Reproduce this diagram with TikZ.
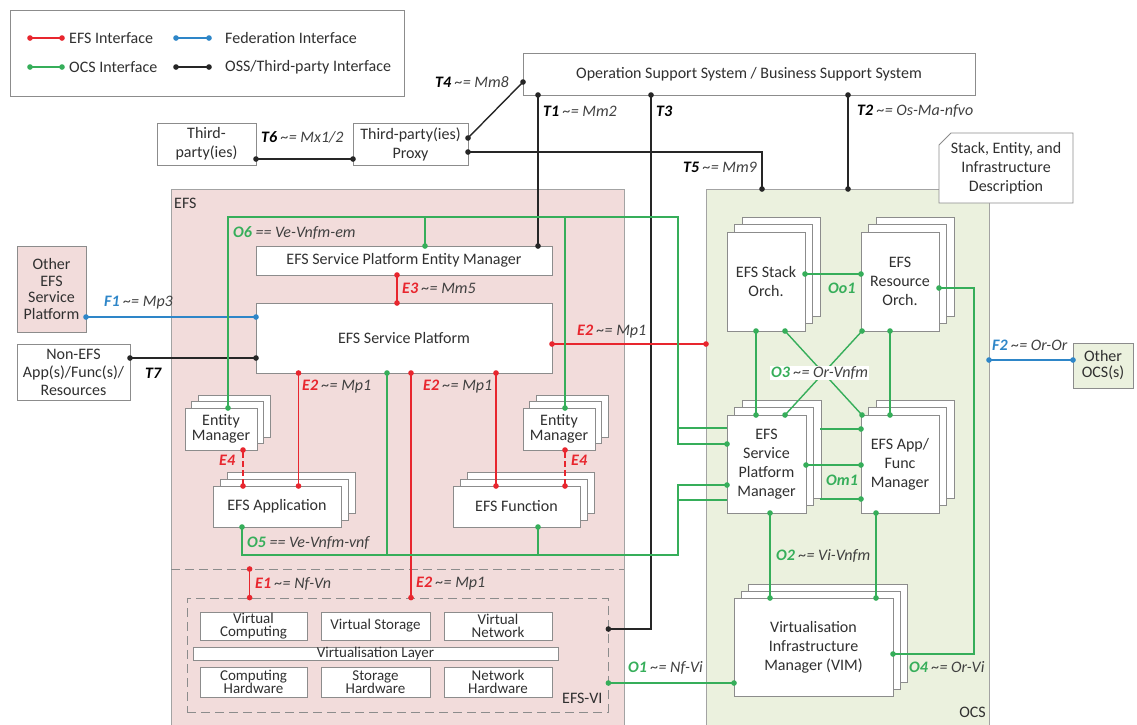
\documentclass[tikz,border=0pt]{standalone}
\usepackage{fontspec}
\setmainfont{Carlito}
\usetikzlibrary{arrows.meta,calc}
\definecolor{cred}{HTML}{E8262E}
\definecolor{cblue}{HTML}{2E86C8}
\definecolor{cgreen}{HTML}{36AE5A}
\definecolor{cpink}{HTML}{F2DCDB}
\definecolor{cocs}{HTML}{EBF1DE}
\definecolor{cbord}{HTML}{8C8C8C}
\definecolor{labgray}{HTML}{404040}
\definecolor{ctext}{HTML}{303030}
\newcommand\lab[3]{\textbf{\textit{\color{#1}#2}} \textit{\color{labgray}#3}}
\newcommand\stackbox[7][7]{%
  \draw[boxline] (#3-#5/2+2*#1, #4-#6/2-2*#1) rectangle (#3+#5/2+2*#1, #4+#6/2-2*#1);
  \draw[boxline] (#3-#5/2+#1, #4-#6/2-#1) rectangle (#3+#5/2+#1, #4+#6/2-#1);
  \node[box, minimum width=#5, minimum height=#6] (#2) at (#3,#4) {#7};}
\begin{document}
\begin{tikzpicture}[x=1pt,y=-1pt,
  font=\fontsize{16}{19}\selectfont,
  box/.style={draw=cbord, fill=white, line width=0.8pt, inner sep=1pt, outer sep=0pt, align=center, text=ctext},
  boxline/.style={draw=cbord, fill=white, line width=0.8pt},
  region/.style={draw=cbord!80, line width=0.8pt, inner sep=0pt, outer sep=0pt},
  vbox/.style={box, inner sep=0pt, font=\fontsize{15}{13.5}\selectfont},
  lbl/.style={inner sep=0pt, anchor=west, text=labgray},
  conn/.style={line width=1.4pt},
  blk/.style={conn, draw=black!85},
  rl/.style={conn, draw=cred},
  gl/.style={conn, draw=cgreen},
  bl/.style={conn, draw=cblue},
  dd/.style={{Circle[length=5.5pt]}-{Circle[length=5.5pt]}, shorten <=-2.75pt, shorten >=-2.75pt},
  ds/.style={{Circle[length=5.5pt]}-, shorten <=-2.75pt},
  de/.style={-{Circle[length=5.5pt]}, shorten >=-2.75pt}
]
\useasboundingbox (0,0) rectangle (1137,724);
\clip (0,0) rectangle (1137,724);

% ---------- regions
\node[region, fill=cpink, minimum width=453, minimum height=540] (efs) at (397.5,459) {};
\node[region, fill=cocs, minimum width=283, minimum height=540] (ocs) at (847.5,459) {};
\node[lbl, text=ctext] (efsl) at (174,203) {EFS};
\node[lbl, anchor=east, text=ctext] (ocsl) at (986,712) {OCS};
\coordinate (sepL) at ($(efs.north west)+(0,380)$);
\coordinate (sepR) at ($(efs.north east)+(0,380)$);
\draw[draw=cbord, line width=0.8pt, dash pattern=on 9pt off 5pt] (sepL) -- (sepR);
\node[draw=cbord, line width=0.8pt, dash pattern=on 9pt off 5pt, minimum width=421, minimum height=114, inner sep=0pt] (vi) at (397.5,655) {};
\node[lbl, text=ctext] (vil) at (562,698) {EFS-VI};

% ---------- legend
\node[box, minimum width=394, minimum height=86] (legend) at (207,53) {};
\coordinate (lg1a) at ($(legend.north west)+(20,28)$);
\coordinate (lg1b) at ($(legend.north west)+(52,28)$);
\coordinate (lg2a) at ($(legend.north west)+(166,28)$);
\coordinate (lg2b) at ($(legend.north west)+(199,28)$);
\coordinate (lg3a) at ($(legend.north west)+(20,57)$);
\coordinate (lg3b) at ($(legend.north west)+(52,57)$);
\coordinate (lg4a) at ($(legend.north west)+(166,57)$);
\coordinate (lg4b) at ($(legend.north west)+(199,57)$);
\draw[rl,dd] (lg1a) -- (lg1b);
\draw[bl,dd] (lg2a) -- (lg2b);
\draw[gl,dd] (lg3a) -- (lg3b);
\draw[blk,dd] (lg4a) -- (lg4b);
\node[lbl, text=ctext] (lgt1) at ($(lg1b)+(7,0)$) {EFS Interface};
\node[lbl, text=ctext] (lgt2) at ($(lg2b)+(16,0)$) {Federation Interface};
\node[lbl, text=ctext] (lgt3) at ($(lg3b)+(7,0)$) {OCS Interface};
\node[lbl, text=ctext] (lgt4) at ($(lg4b)+(16,0)$) {OSS/Third-party Interface};

% ---------- top boxes
\node[box, minimum width=452, minimum height=42] (oss) at (749,74) {Operation Support System / Business Support System};
\node[box, minimum width=99, minimum height=42] (tp) at (206.5,144) {Third-\\party(ies)};
\node[box, minimum width=115, minimum height=42] (proxy) at (410.5,144) {Third-party(ies)\\Proxy};
\draw[boxline] (951,133) -- (1073,133) -- (1073,203) -- (939,203) -- (939,145) -- cycle;
\node[align=center, text=ctext, inner sep=0pt] (sdesc) at (1006,168) {Stack, Entity, and\\Infrastructure\\Description};

% ---------- outer boxes
\node[box, fill=cpink, minimum width=69, minimum height=86] (oefs) at (51.5,289) {Other\\[-2.5pt]EFS\\[-2.5pt]Service\\[-2.5pt]Platform};
\node[box, minimum width=113, minimum height=56] (nonefs) at (73.5,372) {Non-EFS\\[-1pt]App(s)/Func(s)/\\[-1pt]Resources};
\node[box, fill=cocs, minimum width=60, minimum height=45] (oocs) at (1103,365.5) {Other\\[-3pt]OCS(s)};

% ---------- EFS boxes
\node[box, minimum width=296, minimum height=29] (spem) at (404,260.5) {EFS Service Platform Entity Manager};
\node[box, minimum width=296, minimum height=70] (sp) at (404,338) {EFS Service Platform};
\stackbox[6.5]{em1}{221}{429}{72}{42}{Entity\\[-4pt]Manager}
\stackbox[6.5]{em2}{559}{429}{72}{42}{Entity\\[-4pt]Manager}
\stackbox[7]{app}{277}{506.5}{128}{41}{EFS Application}
\stackbox[7]{func}{516.5}{506.5}{127}{41}{EFS Function}

% ---------- EFS-VI boxes
\node[vbox, minimum width=107, minimum height=28] (vc) at (253.5,626) {Virtual\\Computing};
\node[vbox, minimum width=109, minimum height=28] (vs) at (375.5,626) {Virtual Storage};
\node[vbox, minimum width=108, minimum height=28] (vn) at (498,626) {Virtual\\Network};
\node[vbox, minimum width=365, minimum height=13, text height=9pt, text depth=2pt] (vl) at (375.5,653.5) {Virtualisation Layer};
\node[vbox, minimum width=107, minimum height=30] (ch) at (253.5,682) {Computing\\Hardware};
\node[vbox, minimum width=109, minimum height=30] (sh) at (375.5,682) {Storage\\Hardware};
\node[vbox, minimum width=108, minimum height=30] (nh) at (498,682) {Network\\Hardware};

% ---------- OCS boxes
\stackbox[7.5]{sto}{766}{281.5}{78}{99}{EFS Stack\\Orch.}
\stackbox[7.5]{reo}{900}{281.5}{78}{99}{EFS\\Resource\\Orch.}
\stackbox[7.5]{spm}{766.5}{464}{79}{98}{EFS\\Service\\Platform\\Manager}
\stackbox[7.5]{afm}{900}{464}{78}{98}{EFS App/\\Func\\Manager}
\stackbox[7]{vim}{813.5}{647}{159}{98}{Virtualisation\\Infrastructure\\Manager (VIM)}

% ---------- black connectors
\draw[blk,dd] ($(tp.east)+(0,15)$) -- ($(proxy.west)+(0,15)$);
\draw[blk,dd] ($(proxy.east)+(0,-6)$) -- ($(oss.west)+(0,8)$);
\coordinate (t5e) at ($(ocs.north west)+(56,0)$);
\draw[blk,dd] ($(proxy.east)+(0,8)$) -| (t5e);
\coordinate (t1b) at ($(spem.north west)+(282,0)$);
\draw[blk,dd] (t1b |- oss.south) -- (t1b);
\coordinate (t3a) at ($(oss.south west)+(128,0)$);
\coordinate (t3b) at ($(vi.east)+(0,-26)$);
\draw[blk,dd] (t3a) |- (t3b);
\coordinate (t2a) at ($(oss.south west)+(325,0)$);
\draw[blk,dd] (t2a) -- (t2a |- ocs.north);
\draw[blk,dd] ($(nonefs.east)+(0,-14)$) -- ($(sp.west)+(0,20)$);

% ---------- blue connectors
\draw[bl,dd] ($(oefs.east)+(0,28)$) -- ($(sp.west)+(0,-21)$);
\coordinate (f2b) at ($(oocs.west)+(0,-5.5)$);
\draw[bl,dd] (ocs.east |- f2b) -- (f2b);

% ---------- red connectors
\coordinate (e3a) at ($(spem.south west)+(141,0)$);
\draw[rl,dd] (e3a) -- (e3a |- sp.north);
\coordinate (e2r) at ($(sp.east)+(0,6)$);
\draw[rl,dd] (e2r) -- (e2r -| ocs.west);
\coordinate (e2a) at ($(sp.south west)+(42.5,0)$);
\draw[rl,dd] (e2a) -- (e2a |- app.north);
\coordinate (e2f) at ($(sp.south west)+(240,0)$);
\draw[rl,dd] (e2f) -- (e2f |- func.north);
\coordinate (e2v) at ($(sp.south west)+(155,0)$);
\draw[rl,dd] (e2v) -- (e2v |- vi.north);
\coordinate (e4a) at ($(em1.south west)+(58,0)$);
\draw[rl,dd,dash pattern=on 6pt off 3pt] (e4a) -- (e4a |- app.north);
\coordinate (e4b) at ($(em2.south west)+(42,0)$);
\draw[rl,dd,dash pattern=on 6pt off 3pt] (e4b) -- (e4b |- func.north);
\coordinate (e1b) at ($(vi.north west)+(63,0)$);
\draw[rl,dd] (e1b |- sepL) -- (e1b);

% ---------- green connectors in EFS
\coordinate (o6c) at (678,217);
\coordinate (o6l) at ($(em1.north west)+(43,0)$);
\coordinate (spmA) at ($(spm.west)+(0,-20)$);
\coordinate (spmB) at ($(spm.west)+(0,-36)$);
\draw[gl,dd] (o6l) |- (o6c) |- (spmA);
\draw[gl] (o6c |- spmB) -- (spmB);
\coordinate (o6s) at ($(spem.north west)+(169,0)$);
\draw[gl,de] (o6s |- o6c) -- (o6s);
\coordinate (o6e) at ($(em2.north west)+(42,0)$);
\draw[gl,de] (o6e |- o6c) -- (o6e);
\coordinate (o5c) at (678,555);
\coordinate (o5a) at ($(app.south west)+(29,0)$);
\coordinate (spmC) at ($(spm.west)+(0,21)$);
\coordinate (spmD) at ($(spm.west)+(0,36)$);
\draw[gl,dd] (o5a) |- (o5c) |- (spmC);
\draw[gl] (o5c |- spmD) -- (spmD);
\coordinate (o5f) at ($(func.south west)+(85,0)$);
\draw[gl,ds] (o5f) -- (o5f |- o5c);
\coordinate (o5s) at ($(sp.south west)+(131,0)$);
\draw[gl,ds] (o5s) -- (o5s |- o5c);
\coordinate (o1a) at ($(vi.east)+(0,28)$);
\draw[gl,dd] (o1a) -- (o1a -| vim.west);

% ---------- green connectors in OCS
\coordinate (oo1) at ($(sto.east)+(0,-7.5)$);
\draw[gl,dd] (oo1) -- (oo1 -| reo.west);
\coordinate (o4a) at ($(reo.east)+(0,6.5)$);
\coordinate (o4c) at (974,288);
\coordinate (o4b) at ($(vim.east)+(0,7)$);
\draw[gl,dd] (o4a) -- (o4c) |- (o4b);
\coordinate (stB1) at ($(sto.south west)+(29,0)$);
\coordinate (stB2) at ($(sto.south west)+(58,0)$);
\coordinate (rsB1) at ($(reo.south west)+(1,0)$);
\coordinate (rsB2) at ($(reo.south west)+(29,0)$);
\coordinate (smT1) at ($(spm.north west)+(29,0)$);
\coordinate (smT2) at ($(spm.north west)+(58,0)$);
\coordinate (afT1) at ($(afm.north west)+(1,0)$);
\coordinate (afT2) at ($(afm.north west)+(29,0)$);
\draw[gl,dd] (stB1) -- (smT1);
\draw[gl,dd] (stB2) -- (afT1);
\draw[gl,dd] (rsB1) -- (smT2);
\draw[gl,dd] (rsB2) -- (afT2);
\coordinate (spmR) at ($(spm.east)+(14,0)$);
\coordinate (afA) at ($(afm.west)+(0,-35)$);
\coordinate (afB) at ($(afm.west)+(0,1)$);
\coordinate (afC) at ($(afm.west)+(0,35)$);
\draw[gl,de] (spmR |- afA) -- (afA);
\draw[gl,dd] (spm.east |- afB) -- (afB);
\draw[gl,de] (spmR |- afC) -- (afC);
\coordinate (o2a) at ($(spm.south west)+(43,0)$);
\draw[gl,dd] (o2a) -- (o2a |- vim.north);
\coordinate (o2b) at ($(afm.south west)+(15,0)$);
\draw[gl,dd] (o2b) -- (o2b |- vim.north);

% ---------- labels
\node[lbl] (lT6) at (261,137) {\lab{black}{T6}{\textasciitilde= Mx1/2}};
\node[lbl, anchor=east] (lT4) at (509,82) {\lab{black}{T4}{\textasciitilde= Mm8}};
\node[lbl] (lT1) at (543,111) {\lab{black}{T1}{\textasciitilde= Mm2}};
\node[lbl] (lT3) at (656,111) {\textbf{\textit{\color{black}T3}}};
\node[lbl] (lT2) at (857,111) {\lab{black}{T2}{\textasciitilde= Os-Ma-nfvo}};
\node[lbl, anchor=east] (lT5) at (757,167) {\lab{black}{T5}{\textasciitilde= Mm9}};
\node[lbl] (lT7) at (145,373) {\textbf{\textit{\color{black}T7}}};
\node[lbl] (lF1) at (104,303) {\lab{cblue}{F1}{\textasciitilde= Mp3}};
\node[lbl] (lF2) at (992,345) {\lab{cblue}{F2}{\textasciitilde= Or-Or}};
\node[lbl] (lO6) at (233,233) {\lab{cgreen}{O6}{== Ve-Vnfm-em}};
\node[lbl] (lE3) at (402,288) {\lab{cred}{E3}{\textasciitilde= Mm5}};
\node[lbl] (lE2a) at (577,332) {\lab{cred}{E2}{\textasciitilde= Mp1}};
\node[lbl] (lE2b) at (302,387) {\lab{cred}{E2}{\textasciitilde= Mp1}};
\node[lbl] (lE2c) at (423,387) {\lab{cred}{E2}{\textasciitilde= Mp1}};
\node[lbl] (lE4a) at (219,460) {\textbf{\textit{\color{cred}E4}}};
\node[lbl] (lE4b) at (571,460) {\textbf{\textit{\color{cred}E4}}};
\node[lbl] (lO5) at (247,543) {\lab{cgreen}{O5}{== Ve-Vnfm-vnf}};
\node[lbl] (lE1) at (255,584) {\lab{cred}{E1}{\textasciitilde= Nf-Vn}};
\node[lbl] (lE2d) at (416,584) {\lab{cred}{E2}{\textasciitilde= Mp1}};
\node[lbl] (lOo1) at (828,288) {\textbf{\textit{\color{cgreen}Oo1}}};
\node[lbl, fill=white, inner sep=1pt] (lO3) at (770,373) {\lab{cgreen}{O3}{\textasciitilde= Or-Vnfm}};
\node[lbl] (lOm1) at (826,480) {\textbf{\textit{\color{cgreen}Om1}}};
\node[lbl] (lO2) at (776,556) {\lab{cgreen}{O2}{\textasciitilde= Vi-Vnfm}};
\node[lbl] (lO4) at (909,667) {\lab{cgreen}{O4}{\textasciitilde= Or-Vi}};
\node[lbl] (lO1) at (628,668) {\lab{cgreen}{O1}{\textasciitilde= Nf-Vi}};
\end{tikzpicture}
\end{document}
